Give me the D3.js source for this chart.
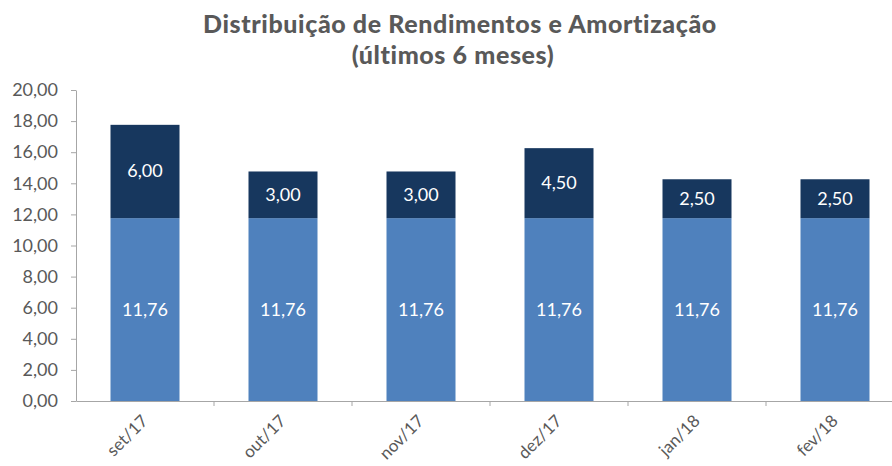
<!DOCTYPE html>
<html><head><meta charset="utf-8">
<script src="https://cdn.jsdelivr.net/npm/d3@7"></script>
<style>body{margin:0;background:#fff;}svg{display:block;}</style>
</head><body>
<script>
const categories = ["set/17","out/17","nov/17","dez/17","jan/18","fev/18"];
const rendimentos = [11.76,11.76,11.76,11.76,11.76,11.76];
const amortizacao = [6.00,3.00,3.00,4.50,2.50,2.50];
const yTicks = [0,2,4,6,8,10,12,14,16,18,20];

const W = 892, H = 466;
const svg = d3.select("body").append("svg").attr("width", W).attr("height", H);
const font = "'Gill Sans','Lato','Open Sans',sans-serif";
const fmt = v => v.toFixed(2).replace(".", ",");

const x = d3.scaleBand().domain(categories).range([76, 904]).paddingInner(0.5).paddingOuter(0.25);
const y = d3.scaleLinear().domain([0, 20]).range([401, 90]);

// title
const t = svg.append("text").attr("text-anchor","middle").attr("fill","#595959")
  .style("font-family", font).style("font-weight","900").style("font-size","25px")
  .style("letter-spacing","0.6px");
t.append("tspan").attr("x", 460).attr("y", 33).text("Distribuição de Rendimentos e Amortização");
t.append("tspan").attr("x", 453).attr("y", 64).text("(últimos 6 meses)");

// bars
const data = categories.map((c,i)=>({c, r: rendimentos[i], a: amortizacao[i]}));
svg.selectAll("rect.r").data(data).join("rect").attr("class","r")
  .attr("x", d=>x(d.c)).attr("width", x.bandwidth())
  .attr("y", d=>y(d.r)).attr("height", d=>y(0)-y(d.r)).attr("fill","#4F81BD");
svg.selectAll("rect.a").data(data).join("rect").attr("class","a")
  .attr("x", d=>x(d.c)).attr("width", x.bandwidth())
  .attr("y", d=>y(d.r+d.a)).attr("height", d=>y(d.r)-y(d.r+d.a)).attr("fill","#17375E");

// labels
svg.selectAll("text.lr").data(data).join("text").attr("class","lr")
  .attr("x", d=>x(d.c)+x.bandwidth()/2).attr("y", d=>y(d.r/2)+6)
  .attr("text-anchor","middle").attr("fill","#fff").style("font-family",font).style("font-size","18px")
  .text(d=>fmt(d.r));
svg.selectAll("text.la").data(data).join("text").attr("class","la")
  .attr("x", d=>x(d.c)+x.bandwidth()/2).attr("y", d=>y(d.r+d.a/2)+6)
  .attr("text-anchor","middle").attr("fill","#fff").style("font-family",font).style("font-size","18px")
  .text(d=>fmt(d.a));

// y axis
const ya = svg.append("g").attr("transform","translate(76,0)")
  .call(d3.axisLeft(y).tickValues(yTicks).tickFormat(fmt).tickSize(5).tickSizeOuter(0).tickPadding(13));
ya.select(".domain").attr("stroke","#a6a6a6");
ya.selectAll(".tick line").attr("stroke","#a6a6a6");
ya.selectAll("text").attr("fill","#595959").style("font-family",font).style("font-size","18px");

// x axis
const xa = svg.append("g").attr("transform","translate(0,401)")
  .call(d3.axisBottom(x).tickSize(0).tickSizeOuter(0).tickPadding(0));
xa.select(".domain").attr("stroke","#a6a6a6");
xa.selectAll(".tick text").attr("fill","#595959").style("font-family",font).style("font-size","17px")
  .attr("text-anchor","end").attr("dy",0).attr("transform","translate(4,21) rotate(-45)");
// boundary ticks between categories
svg.selectAll("line.bt").data(categories.slice(1)).join("line").attr("class","bt")
  .attr("x1", c=>x(c)-x.step()*0.25).attr("x2", c=>x(c)-x.step()*0.25)
  .attr("y1", 401).attr("y2", 406).attr("stroke","#a6a6a6");
</script>
</body></html>
